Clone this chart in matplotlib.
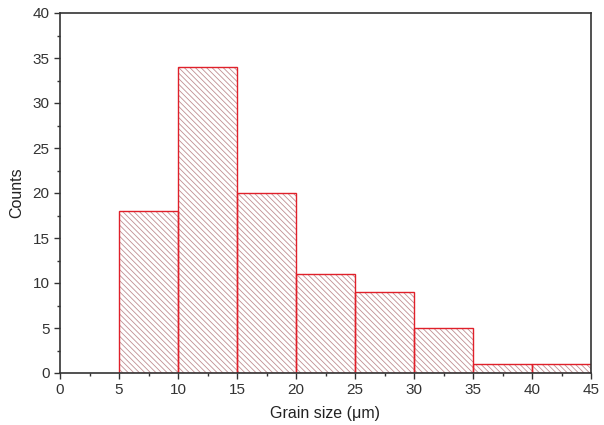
import matplotlib
matplotlib.use("Agg")
import matplotlib.pyplot as plt
from matplotlib.ticker import MultipleLocator

plt.rcParams['font.family'] = ['Liberation Sans', 'DejaVu Sans']
plt.rcParams['hatch.linewidth'] = 0.6

bin_edges = [5, 10, 15, 20, 25, 30, 35, 40, 45]
counts = [18, 34, 20, 11, 9, 5, 1, 1]
x_label = "Grain size (\u03bcm)"
y_label = "Counts"

fig = plt.figure(figsize=(6.04, 4.25), dpi=100)
ax = fig.add_axes([60/604, 52/425, 531/604, 360/425])

lefts = bin_edges[:-1]
widths = [bin_edges[i+1] - bin_edges[i] for i in range(len(counts))]
ax.bar(lefts, counts, width=widths, align='edge', color='white',
       edgecolor='#c08e92', hatch='\\' * 6, linewidth=0)
ax.bar(lefts, counts, width=widths, align='edge', fill=False,
       edgecolor='#e0202a', linewidth=1.0)

ax.set_xlim(0, 45)
ax.set_ylim(0, 40)
ax.xaxis.set_major_locator(MultipleLocator(5))
ax.xaxis.set_minor_locator(MultipleLocator(2.5))
ax.yaxis.set_major_locator(MultipleLocator(5))
ax.yaxis.set_minor_locator(MultipleLocator(2.5))
ax.tick_params(which='both', direction='out', labelsize=11, colors='#333333')
ax.tick_params(which='major', length=4, width=1)
ax.tick_params(which='minor', length=2.5, width=1)
for s in ax.spines.values():
    s.set_linewidth(1.2)
    s.set_color('#333333')
ax.set_xlabel(x_label, fontsize=11.5, color='#222222', labelpad=6)
ax.set_ylabel(y_label, fontsize=11.5, color='#222222', labelpad=6)

fig.savefig("out.png", dpi=100)
